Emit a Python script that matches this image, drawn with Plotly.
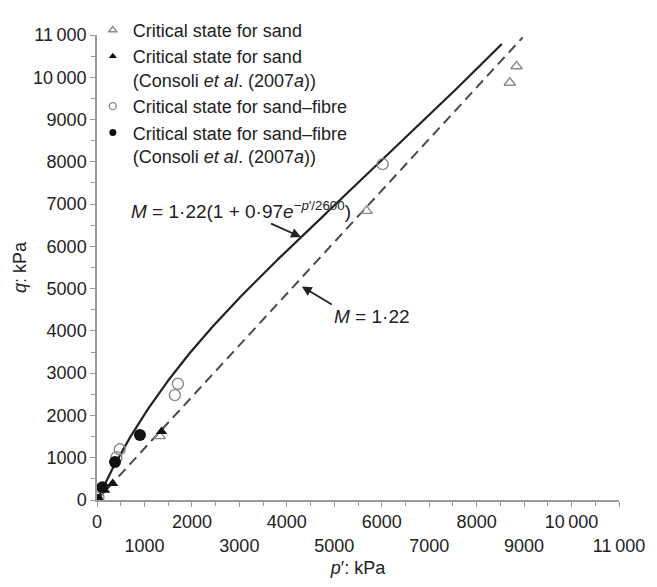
import numpy as np
import plotly.graph_objects as go

# ---------------- data ----------------
sand_p = [0, 1320, 5680, 8700, 8840]
sand_q = [0, 1510, 6840, 9870, 10260]

sand_consoli_p = [20, 160, 330, 1360]
sand_consoli_q = [20, 230, 390, 1620]

fibre_p = [30, 410, 480, 1640, 1705, 6020]
fibre_q = [60, 1010, 1200, 2480, 2750, 7945]

fibre_consoli_p = [0, 115, 380, 905]
fibre_consoli_q = [0, 300, 900, 1535]

# model lines printed on the chart
M_cs = 1.22
fibre_a = 0.97
fibre_pref = 2600
solid_p_end = 8530
dashed_p_end = 8970

x_tick_vals = [0, 1000, 2000, 3000, 4000, 5000, 6000, 7000, 8000, 9000, 10000, 11000]
x_tick_text = ["0", "<br>1000", "2000", "<br>3000", "4000", "<br>5000", "6000",
               "<br>7000", "8000", "<br>9000", "10\u2009000", "<br>11\u2009000"]
y_tick_vals = [0, 1000, 2000, 3000, 4000, 5000, 6000, 7000, 8000, 9000, 10000, 11000]
y_tick_text = ["0", "1000", "2000", "3000", "4000", "5000", "6000", "7000", "8000",
               "9000", "10\u2009000", "11\u2009000"]

legend_names = [
    "Critical state for sand",
    "Critical state for sand<br>(Consoli <i>et al</i>. (2007<i>a</i>))",
    "Critical state for sand\u2013fibre",
    "Critical state for sand\u2013fibre<br>(Consoli <i>et al</i>. (2007<i>a</i>))",
]

FONT = "Arial, 'Liberation Sans', sans-serif"
GREY = "#8a8a8a"
AXIS = "#9a9a9a"
TXT = "#222222"

p_solid = np.linspace(0, solid_p_end, 300)
q_solid = M_cs * (1 + fibre_a * np.exp(-p_solid / fibre_pref)) * p_solid
p_dash = np.array([0, dashed_p_end])
q_dash = M_cs * p_dash

fig = go.Figure()

fig.add_trace(go.Scatter(x=p_dash, y=q_dash, mode="lines", showlegend=False,
                         line=dict(color="#4a4a4a", width=2, dash="10px,6px"), hoverinfo="skip"))
fig.add_trace(go.Scatter(x=p_solid, y=q_solid, mode="lines", showlegend=False,
                         line=dict(color="#222222", width=2.2), hoverinfo="skip"))

styles = [
    dict(symbol="triangle-up-open", color=GREY, line=dict(color=GREY, width=1.4)),
    dict(symbol="triangle-up", color="#111111", line=dict(color="#111111", width=0)),
    dict(symbol="circle-open", color=GREY, line=dict(color=GREY, width=1.4)),
    dict(symbol="circle", color="#111111", line=dict(color="#111111", width=0)),
]
plot_sizes = [10, 10, 11, 12]
legend_sizes = [7, 7, 7, 7]
series = [(sand_p, sand_q), (sand_consoli_p, sand_consoli_q),
          (fibre_p, fibre_q), (fibre_consoli_p, fibre_consoli_q)]

for i, (px_, qy_) in enumerate(series):
    fig.add_trace(go.Scatter(x=px_, y=qy_, mode="markers", showlegend=False,
                             marker=dict(size=plot_sizes[i], **styles[i])))
for i, name in enumerate(legend_names):
    fig.add_trace(go.Scatter(x=[None], y=[None], mode="markers", name=name,
                             legendgroup=f"g{i}",
                             marker=dict(size=legend_sizes[i], **styles[i])))

# annotations (arrow heads on the two lines)
solid_head_p = 4300
solid_head_q = M_cs * (1 + fibre_a * np.exp(-solid_head_p / fibre_pref)) * solid_head_p
dash_head_p = 4316
dash_head_q = 5052

fig.add_annotation(x=solid_head_p, y=solid_head_q, ax=-60, ay=-27,
                   text="<i>M</i> = 1\u00b722(1 + 0\u00b797<i>e</i><sup>\u2212<i>p</i>\u2032/2600</sup>)",
                   showarrow=True, arrowhead=2, arrowsize=1.1, arrowwidth=1.8, arrowcolor="#222",
                   font=dict(size=19, color=TXT, family=FONT))
fig.add_annotation(x=dash_head_p, y=dash_head_q, ax=30, ay=18, xanchor="left", yanchor="top",
                   text="<i>M</i> = 1\u00b722",
                   showarrow=True, arrowhead=2, arrowsize=1.1, arrowwidth=1.8, arrowcolor="#222",
                   font=dict(size=19, color=TXT, family=FONT))

axis_common = dict(showgrid=False, zeroline=False, showline=True, linecolor=AXIS, linewidth=1.5,
                   ticks="outside", ticklen=5, tickcolor=AXIS, tickwidth=1.2, tickangle=0,
                   tickfont=dict(size=18, color=TXT, family=FONT),
                   minor=dict(dtick=500, ticks="outside", ticklen=4, tickcolor=AXIS, tickwidth=1.2))

fig.update_xaxes(range=[0, 11000], tickmode="array", tickvals=x_tick_vals, ticktext=x_tick_text,
                 title=dict(text="<i>p</i>\u2032: kPa", font=dict(size=18, color=TXT, family=FONT),
                            standoff=7),
                 **axis_common)
fig.update_yaxes(range=[0, 11000], tickmode="array", tickvals=y_tick_vals, ticktext=y_tick_text,
                 title=dict(text="<i>q</i>: kPa", font=dict(size=18, color=TXT, family=FONT),
                            standoff=2),
                 **axis_common)

fig.update_layout(
    width=657, height=587,
    margin=dict(l=97, r=37, t=29, b=79),
    paper_bgcolor="white", plot_bgcolor="white",
    font=dict(family=FONT, color=TXT),
    legend=dict(x=-0.008, xanchor="left", y=1.05, yanchor="top",
                font=dict(size=18, color=TXT, family=FONT),
                itemwidth=30, valign="top", tracegroupgap=0,
                bgcolor="rgba(0,0,0,0)"),
)

fig.write_html("out.html")
